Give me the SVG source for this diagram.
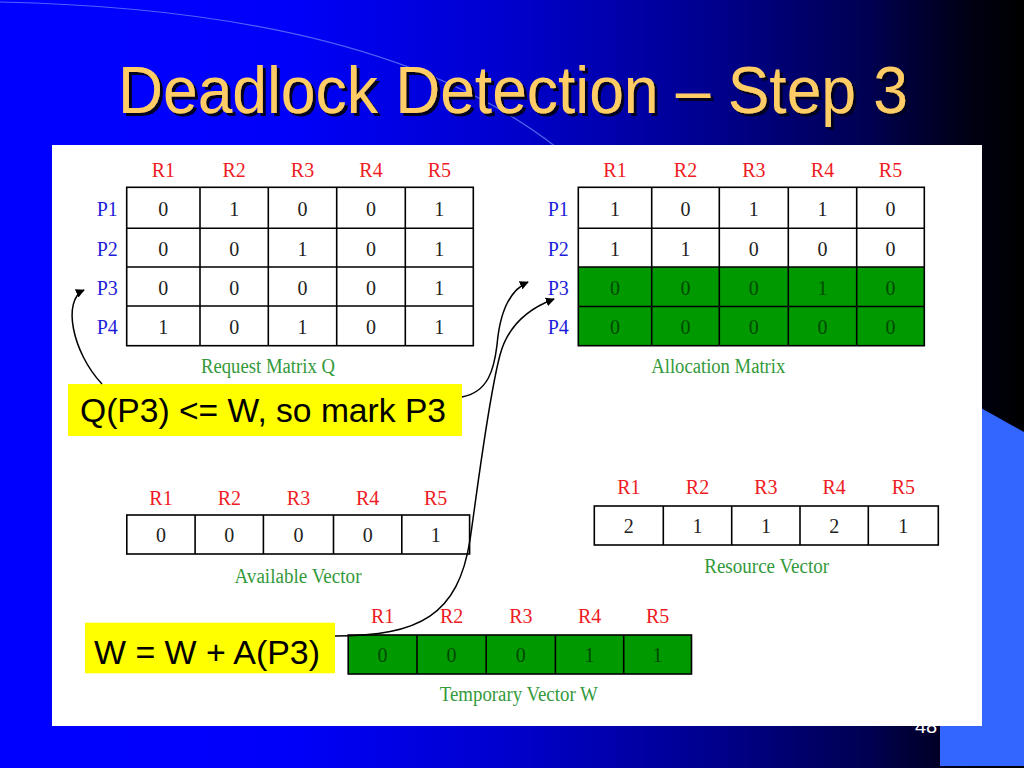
<svg xmlns="http://www.w3.org/2000/svg" width="1024" height="768" viewBox="0 0 1024 768">
<defs>
<linearGradient id="bg" x1="0" y1="0" x2="1024" y2="0" gradientUnits="userSpaceOnUse">
<stop offset="0" stop-color="#0000ff"/>
<stop offset="0.28" stop-color="#0000fa"/>
<stop offset="0.5" stop-color="#0000cc"/>
<stop offset="0.7" stop-color="#00008c"/>
<stop offset="0.85" stop-color="#000050"/>
<stop offset="0.95" stop-color="#000012"/>
<stop offset="1" stop-color="#000000"/>
</linearGradient>
<filter id="shadow" x="-5%" y="-20%" width="110%" height="140%">
<feDropShadow dx="3" dy="3" stdDeviation="0.6" flood-color="#000022" flood-opacity="1"/>
</filter>
<marker id="arr" viewBox="0 0 10 10" refX="9" refY="5" markerWidth="9" markerHeight="9" markerUnits="userSpaceOnUse" orient="auto">
<path d="M0,0 L10,5 L0,10 Z" fill="#000"/>
</marker>
<style>
.grid{fill:none;stroke:#000;stroke-width:1.6}
.green{fill:#009900}
.hdr{font-family:"Liberation Serif",serif;font-size:20px;fill:#ee1c24;text-anchor:middle}
.plab{font-family:"Liberation Serif",serif;font-size:20px;fill:#1d1dd9;text-anchor:middle}
.val{font-family:"Liberation Serif",serif;font-size:20px;fill:#222;text-anchor:middle}
.gval{font-family:"Liberation Serif",serif;font-size:20px;fill:#004a00;text-anchor:middle}
.cap{font-family:"Liberation Serif",serif;font-size:20px;fill:#33993a;text-anchor:middle}
.note{font-family:"Liberation Sans",Arial,sans-serif;font-size:33px;fill:#000}
.conn{fill:none;stroke:#000;stroke-width:1.5}
</style>
</defs>

<!-- background -->
<rect x="0" y="0" width="1024" height="768" fill="url(#bg)"/>
<path d="M0,2 Q380,10 556,147" fill="none" stroke="#6f8cff" stroke-width="1.2" opacity="0.7"/>
<polygon points="940,385 1024,432 1024,766 940,766" fill="#3366ff"/>
<text x="926" y="733" font-family="Liberation Sans,Arial,sans-serif" font-size="20" fill="#ffffff" text-anchor="middle">48</text>

<!-- title -->
<g id="title">
<text x="118" y="113" font-family="Liberation Sans,Arial,sans-serif" font-size="66" fill="#ffcc66" textLength="790" lengthAdjust="spacingAndGlyphs" filter="url(#shadow)">Deadlock Detection – Step 3</text>
</g>

<!-- panel -->
<rect x="52" y="145" width="930" height="581" fill="#ffffff"/>

<!-- Request matrix Q -->
<g id="request-matrix">
<text class="hdr" x="163.3" y="177">R1</text>
<text class="hdr" x="234.2" y="177">R2</text>
<text class="hdr" x="302.5" y="177">R3</text>
<text class="hdr" x="371" y="177">R4</text>
<text class="hdr" x="439.3" y="177">R5</text>
<text class="plab" x="107.3" y="216">P1</text>
<text class="plab" x="107.3" y="256">P2</text>
<text class="plab" x="107.3" y="295">P3</text>
<text class="plab" x="107.3" y="334">P4</text>
<rect class="grid" x="126.7" y="187.3" width="346.6" height="158.4"/>
<path class="grid" d="M200,187.3V345.7M268.3,187.3V345.7M336.7,187.3V345.7M405.3,187.3V345.7M126.7,228.3H473.3M126.7,267H473.3M126.7,306H473.3"/>
<text class="val" x="163.3" y="216">0</text><text class="val" x="234.2" y="216">1</text><text class="val" x="302.5" y="216">0</text><text class="val" x="371" y="216">0</text><text class="val" x="439.3" y="216">1</text>
<text class="val" x="163.3" y="256">0</text><text class="val" x="234.2" y="256">0</text><text class="val" x="302.5" y="256">1</text><text class="val" x="371" y="256">0</text><text class="val" x="439.3" y="256">1</text>
<text class="val" x="163.3" y="295">0</text><text class="val" x="234.2" y="295">0</text><text class="val" x="302.5" y="295">0</text><text class="val" x="371" y="295">0</text><text class="val" x="439.3" y="295">1</text>
<text class="val" x="163.3" y="334">1</text><text class="val" x="234.2" y="334">0</text><text class="val" x="302.5" y="334">1</text><text class="val" x="371" y="334">0</text><text class="val" x="439.3" y="334">1</text>
<text class="cap" x="268" y="373" textLength="134" lengthAdjust="spacingAndGlyphs">Request Matrix Q</text>
</g>

<!-- Allocation matrix -->
<g id="allocation-matrix">
<text class="hdr" x="615" y="177">R1</text>
<text class="hdr" x="685.5" y="177">R2</text>
<text class="hdr" x="753.8" y="177">R3</text>
<text class="hdr" x="822.5" y="177">R4</text>
<text class="hdr" x="890.5" y="177">R5</text>
<text class="plab" x="558.3" y="216">P1</text>
<text class="plab" x="558.3" y="256">P2</text>
<text class="plab" x="558.3" y="295">P3</text>
<text class="plab" x="558.3" y="334">P4</text>
<rect class="green" x="578.3" y="267" width="346" height="78.7"/>
<rect class="grid" x="578.3" y="187.3" width="346" height="158.4"/>
<path class="grid" d="M651.7,187.3V345.7M719.3,187.3V345.7M788.3,187.3V345.7M856.7,187.3V345.7M578.3,228.3H924.3M578.3,267H924.3M578.3,306.5H924.3"/>
<text class="val" x="615" y="216">1</text><text class="val" x="685.5" y="216">0</text><text class="val" x="753.8" y="216">1</text><text class="val" x="822.5" y="216">1</text><text class="val" x="890.5" y="216">0</text>
<text class="val" x="615" y="256">1</text><text class="val" x="685.5" y="256">1</text><text class="val" x="753.8" y="256">0</text><text class="val" x="822.5" y="256">0</text><text class="val" x="890.5" y="256">0</text>
<text class="gval" x="615" y="295">0</text><text class="gval" x="685.5" y="295">0</text><text class="gval" x="753.8" y="295">0</text><text class="gval" x="822.5" y="295">1</text><text class="gval" x="890.5" y="295">0</text>
<text class="gval" x="615" y="334">0</text><text class="gval" x="685.5" y="334">0</text><text class="gval" x="753.8" y="334">0</text><text class="gval" x="822.5" y="334">0</text><text class="gval" x="890.5" y="334">0</text>
<text class="cap" x="718.3" y="373" textLength="134" lengthAdjust="spacingAndGlyphs">Allocation Matrix</text>
</g>

<!-- Available vector -->
<g id="available-vector">
<text class="hdr" x="161" y="505">R1</text>
<text class="hdr" x="229.3" y="505">R2</text>
<text class="hdr" x="298.5" y="505">R3</text>
<text class="hdr" x="367.7" y="505">R4</text>
<text class="hdr" x="435.7" y="505">R5</text>
<rect class="grid" x="126.8" y="515" width="342.8" height="39"/>
<path class="grid" d="M195.1,515V554M263.4,515V554M333.5,515V554M401.8,515V554"/>
<text class="val" x="161" y="542">0</text><text class="val" x="229.3" y="542">0</text><text class="val" x="298.5" y="542">0</text><text class="val" x="367.7" y="542">0</text><text class="val" x="435.7" y="542">1</text>
<text class="cap" x="298" y="583" textLength="127" lengthAdjust="spacingAndGlyphs">Available Vector</text>
</g>

<!-- Resource vector -->
<g id="resource-vector">
<text class="hdr" x="628.8" y="494">R1</text>
<text class="hdr" x="697.5" y="494">R2</text>
<text class="hdr" x="765.9" y="494">R3</text>
<text class="hdr" x="834.2" y="494">R4</text>
<text class="hdr" x="903.3" y="494">R5</text>
<rect class="grid" x="594.3" y="506" width="344" height="39"/>
<path class="grid" d="M663.3,506V545M731.7,506V545M800,506V545M868.3,506V545"/>
<text class="val" x="628.8" y="533">2</text><text class="val" x="697.5" y="533">1</text><text class="val" x="765.9" y="533">1</text><text class="val" x="834.2" y="533">2</text><text class="val" x="903.3" y="533">1</text>
<text class="cap" x="766.7" y="573" textLength="125" lengthAdjust="spacingAndGlyphs">Resource Vector</text>
</g>

<!-- Temporary vector W -->
<g id="temporary-vector">
<text class="hdr" x="382.6" y="623">R1</text>
<text class="hdr" x="451.6" y="623">R2</text>
<text class="hdr" x="520.8" y="623">R3</text>
<text class="hdr" x="589.6" y="623">R4</text>
<text class="hdr" x="657.6" y="623">R5</text>
<rect class="green" x="348.2" y="635" width="343.3" height="39"/>
<rect class="grid" x="348.2" y="635" width="343.3" height="39"/>
<path class="grid" d="M417,635V674M486.2,635V674M555.4,635V674M623.7,635V674"/>
<text class="gval" x="382.6" y="662">0</text><text class="gval" x="451.6" y="662">0</text><text class="gval" x="520.8" y="662">0</text><text class="gval" x="589.6" y="662">1</text><text class="gval" x="657.6" y="662">1</text>
<text class="cap" x="518.8" y="701" textLength="158" lengthAdjust="spacingAndGlyphs">Temporary Vector W</text>
</g>

<!-- notes -->
<g id="note-mark">
<rect x="68" y="384" width="394" height="52" fill="#ffff00"/>
<text class="note" x="80" y="422" textLength="366" lengthAdjust="spacingAndGlyphs">Q(P3) &lt;= W, so mark P3</text>
</g>
<g id="note-w">
<rect x="85" y="622.7" width="250" height="50.6" fill="#ffff00"/>
<text class="note" x="94" y="664" textLength="226" lengthAdjust="spacingAndGlyphs">W = W + A(P3)</text>
</g>

<!-- connectors -->
<g id="connectors">
<path class="conn" d="M102,384 C72,352 62,300 84,290" marker-end="url(#arr)"/>
<path class="conn" d="M462,397 C488,392 494,370 497,345 C500,310 510,290 528,282" marker-end="url(#arr)"/>
<path class="conn" d="M335,636 C420,636 458,615 470,540 C476,500 488,400 500,355 C508,325 530,308 554,299" marker-end="url(#arr)"/>
</g>
</svg>
